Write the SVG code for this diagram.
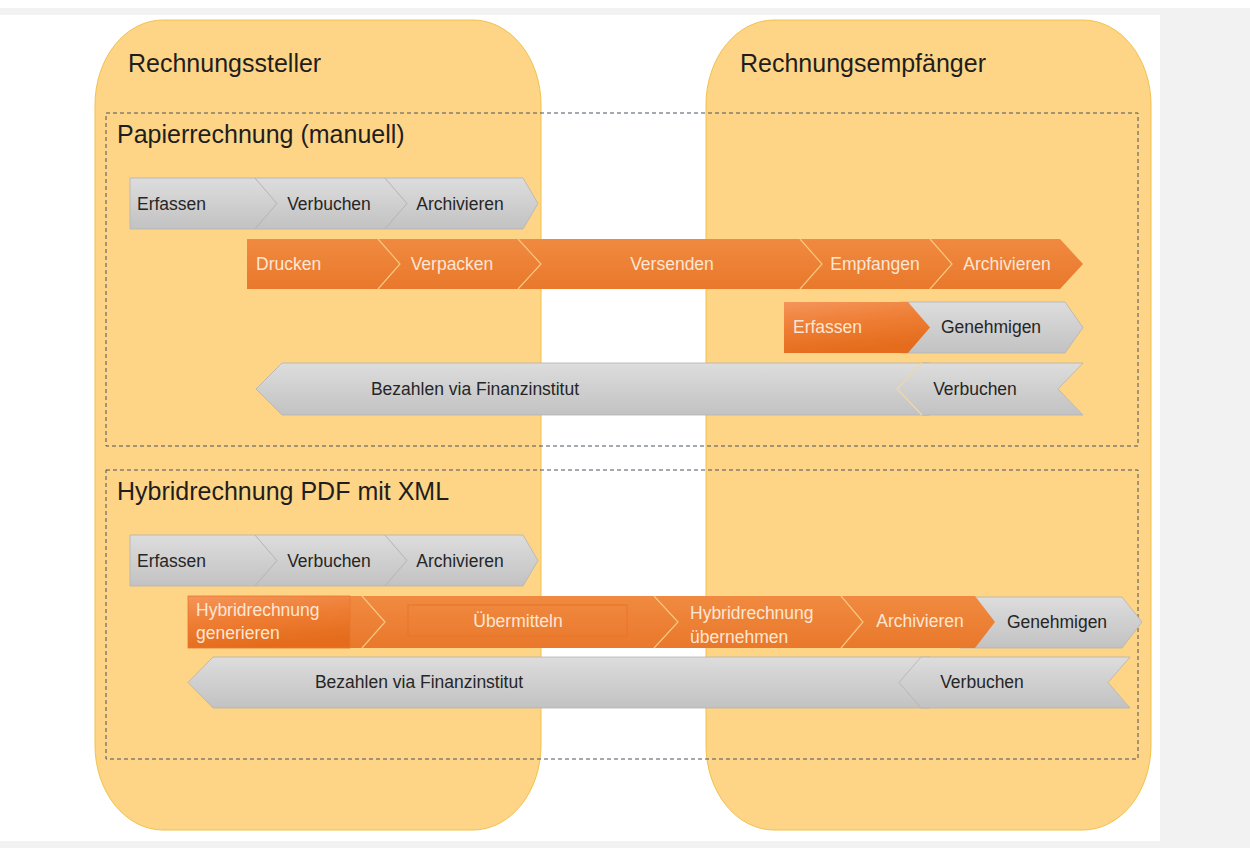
<svg xmlns="http://www.w3.org/2000/svg" width="1250" height="848" viewBox="0 0 1250 848">
<defs>
<linearGradient id="gGray" x1="0" y1="0" x2="0" y2="1">
<stop offset="0" stop-color="#dddddd"/>
<stop offset="1" stop-color="#c2c2c2"/>
</linearGradient>
<linearGradient id="gOr" x1="0" y1="0" x2="0" y2="1">
<stop offset="0" stop-color="#f08a40"/>
<stop offset="1" stop-color="#e9782b"/>
</linearGradient>
<linearGradient id="gOr2" x1="0" y1="0" x2="0.3" y2="1">
<stop offset="0" stop-color="#f4955a"/>
<stop offset="0.5" stop-color="#ee7d33"/>
<stop offset="1" stop-color="#e46c1c"/>
</linearGradient>
<style>
.lane{fill:#fed586;stroke:#f2c04a;stroke-width:1}
.frame{fill:none;stroke:#4a5260;stroke-width:1;stroke-dasharray:4 3}
.h{font-family:"Liberation Sans",Arial,sans-serif;font-size:25px;fill:#1e1e1e}
.g{fill:url(#gGray);stroke:#b3b3b3;stroke-width:0.8}
.o{fill:url(#gOr);stroke:none}
.o2{fill:url(#gOr2);stroke:none}
.sepO{fill:none;stroke:#f7c77f;stroke-width:1.2}
.t{font-family:"Liberation Sans",Arial,sans-serif;font-size:17.5px;fill:#262626}
.to{font-family:"Liberation Sans",Arial,sans-serif;font-size:17.5px;fill:#fde6d4}
.c{text-anchor:middle}
</style>
</defs>
<rect x="0" y="0" width="1250" height="848" fill="#ffffff"/>
<rect x="0" y="8" width="1250" height="840" fill="#f2f2f2"/>
<rect x="0" y="15" width="1160" height="826" fill="#ffffff"/>

<g id="lane-steller">
<path class="lane" d="M163,20 H473 A68,85 0 0 1 541,105 V745 A68,85 0 0 1 473,830 H163 A68,85 0 0 1 95,745 V105 A68,85 0 0 1 163,20 Z"/>
<text class="h" x="128" y="72">Rechnungssteller</text>
</g>
<g id="lane-empfaenger">
<path class="lane" d="M774,20 H1083 A68,85 0 0 1 1151,105 V745 A68,85 0 0 1 1083,830 H774 A68,85 0 0 1 706,745 V105 A68,85 0 0 1 774,20 Z"/>
<text class="h" x="740" y="72">Rechnungsempfänger</text>
</g>

<g id="frame-papier">
<rect class="frame" x="106" y="113" width="1032" height="333"/>
<text class="h" x="117" y="143">Papierrechnung (manuell)</text>
</g>
<g id="frame-hybrid">
<rect class="frame" x="106" y="470" width="1032" height="289"/>
<text class="h" x="117" y="500">Hybridrechnung PDF mit XML</text>
</g>

<!-- Papier row 1 -->
<g id="p-erfassen">
<polygon class="g" points="130,178 255,178 277,203.5 255,229 130,229"/>
<text class="t" x="137" y="210">Erfassen</text>
</g>
<g id="p-verbuchen">
<polygon class="g" points="255,178 385,178 407,203.5 385,229 255,229 277,203.5"/>
<text class="t c" x="329" y="210">Verbuchen</text>
</g>
<g id="p-archivieren">
<polygon class="g" points="385,178 523,178 538,203.5 523,229 385,229 407,203.5"/>
<text class="t c" x="460" y="210">Archivieren</text>
</g>

<!-- Papier row 2 -->
<g id="p-drucken">
<polygon class="o" points="247,239 378,239 400,264 378,289 247,289"/>
<text class="to" x="256" y="270">Drucken</text>
</g>
<g id="p-verpacken">
<polygon class="o" points="378,239 518,239 541,264 518,289 378,289 400,264"/>
<polyline class="sepO" points="378,239 400,264 378,289"/>
<text class="to c" x="452" y="270">Verpacken</text>
</g>
<g id="p-versenden">
<polygon class="o" points="518,239 800,239 822,264 800,289 518,289 541,264"/>
<polyline class="sepO" points="518,239 541,264 518,289"/>
<text class="to c" x="672" y="270">Versenden</text>
</g>
<g id="p-empfangen">
<polygon class="o" points="800,239 930,239 952,264 930,289 800,289 822,264"/>
<polyline class="sepO" points="800,239 822,264 800,289"/>
<text class="to c" x="875" y="270">Empfangen</text>
</g>
<g id="p-archivieren2">
<polygon class="o" points="930,239 1060,239 1083,264 1060,289 930,289 952,264"/>
<polyline class="sepO" points="930,239 952,264 930,289"/>
<text class="to c" x="1007" y="270">Archivieren</text>
</g>

<!-- Papier row 3 -->
<g id="p-genehmigen">
<polygon class="g" points="900,302 1065,302 1083,327.5 1065,353 900,353"/>
<text class="t c" x="991" y="333">Genehmigen</text>
</g>
<g id="p-erfassen2">
<polygon class="o2" points="784,302 908,302 930,327.5 908,353 784,353"/>
<text class="to" x="793" y="333">Erfassen</text>
</g>

<!-- Papier row 4 -->
<g id="p-bezahlen">
<polygon class="g" points="282,363 930,363 930,415 282,415 256,389"/>
<text class="t c" x="475" y="395">Bezahlen via Finanzinstitut</text>
</g>
<g id="p-verbuchen2">
<polygon class="g" points="922,363 1083,363 1058,389 1083,415 922,415 897,389"/>
<polyline fill="none" stroke="#f3d9a8" stroke-width="1.2" points="922,363 897,389 922,415"/>
<text class="t c" x="975" y="395">Verbuchen</text>
</g>

<!-- Hybrid row 1 -->
<g id="h-erfassen">
<polygon class="g" points="130,535 255,535 277,560.5 255,586 130,586"/>
<text class="t" x="137" y="567">Erfassen</text>
</g>
<g id="h-verbuchen">
<polygon class="g" points="255,535 385,535 407,560.5 385,586 255,586 277,560.5"/>
<text class="t c" x="329" y="567">Verbuchen</text>
</g>
<g id="h-archivieren">
<polygon class="g" points="385,535 523,535 538,560.5 523,586 385,586 407,560.5"/>
<text class="t c" x="460" y="567">Archivieren</text>
</g>

<!-- Hybrid row 2 -->
<g id="h-genehmigen">
<polygon class="g" points="960,597 1122,597 1142,622 1122,648 960,648"/>
<text class="t c" x="1057" y="628">Genehmigen</text>
</g>
<g id="h-uebermitteln">
<polygon class="o" points="340,596 654,596 678,622 654,648 340,648"/>
<polyline class="sepO" points="362,596 385,622 362,648"/>
<rect x="408" y="605" width="219" height="31" fill="none" stroke="#e8742a" stroke-width="1"/>
<text class="to c" x="518" y="627">Übermitteln</text>
</g>
<g id="h-uebernehmen">
<polygon class="o" points="654,596 841,596 863,622 841,648 654,648 678,622"/>
<polyline class="sepO" points="654,596 678,622 654,648"/>
<text class="to" x="690" y="619">Hybridrechnung</text>
<text class="to" x="690" y="643">übernehmen</text>
</g>
<g id="h-archivieren2">
<polygon class="o" points="841,596 975,596 995,622 975,648 841,648 863,622"/>
<polyline class="sepO" points="841,596 863,622 841,648"/>
<text class="to c" x="920" y="627">Archivieren</text>
</g>
<g id="h-generieren">
<rect x="188" y="596" width="162" height="52" fill="url(#gOr2)" stroke="#e8772d" stroke-width="0.8"/>
<text class="to" x="196" y="616">Hybridrechnung</text>
<text class="to" x="196" y="639">generieren</text>
</g>

<!-- Hybrid row 3 -->
<g id="h-bezahlen">
<polygon class="g" points="213,657 930,657 930,708 213,708 188,682.5"/>
<text class="t c" x="419" y="688">Bezahlen via Finanzinstitut</text>
</g>
<g id="h-verbuchen2">
<polygon class="g" points="921,657 1130,657 1108,682.5 1130,708 921,708 899,682.5"/>
<text class="t c" x="982" y="688">Verbuchen</text>
</g>
</svg>
